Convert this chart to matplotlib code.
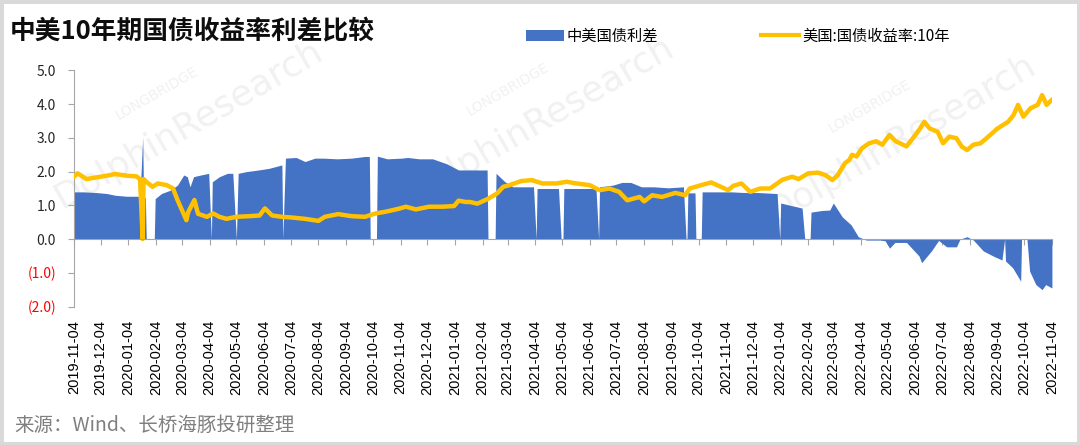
import matplotlib
matplotlib.use("Agg")
import matplotlib.pyplot as plt
import pandas as pd
from matplotlib.patches import Patch, Rectangle
from matplotlib.lines import Line2D

plt.rcParams['font.family'] = ['Noto Sans CJK SC', 'DejaVu Sans']

# 中美国债利差 (zeros are the holiday gaps)
spread_dates = [
    "2019-11-04", "2019-11-15", "2019-11-29", "2019-12-11", "2019-12-20", "2020-01-02",
    "2020-01-14", "2020-01-17", "2020-01-20", "2020-01-21", "2020-01-23", "2020-01-24",
    "2020-02-02", "2020-02-03", "2020-02-10", "2020-02-20", "2020-02-28", "2020-03-06",
    "2020-03-10", "2020-03-13", "2020-03-17", "2020-03-25", "2020-04-03", "2020-04-06",
    "2020-04-07", "2020-04-15", "2020-04-24", "2020-04-30", "2020-05-04", "2020-05-06",
    "2020-05-15", "2020-05-29", "2020-06-10", "2020-06-24", "2020-06-25", "2020-06-28",
    "2020-07-10", "2020-07-20", "2020-07-31", "2020-08-10", "2020-08-25", "2020-09-10",
    "2020-09-25", "2020-09-30", "2020-10-01", "2020-10-08", "2020-10-09", "2020-10-20",
    "2020-11-05", "2020-11-12", "2020-11-25", "2020-12-10", "2020-12-26", "2021-01-08",
    "2021-01-20", "2021-02-09", "2021-02-10", "2021-02-18", "2021-02-19", "2021-03-01",
    "2021-03-10", "2021-03-25", "2021-04-02", "2021-04-05", "2021-04-06", "2021-04-20",
    "2021-04-30", "2021-05-03", "2021-05-05", "2021-05-06", "2021-05-20", "2021-06-11",
    "2021-06-14", "2021-06-15", "2021-06-30", "2021-07-10", "2021-07-20", "2021-08-01",
    "2021-08-15", "2021-08-31", "2021-09-17", "2021-09-20", "2021-09-21", "2021-09-22",
    "2021-09-30", "2021-10-01", "2021-10-07", "2021-10-08", "2021-10-20", "2021-11-10",
    "2021-11-25", "2021-12-10", "2021-12-31", "2022-01-03", "2022-01-04", "2022-01-15",
    "2022-01-28", "2022-01-31", "2022-02-06", "2022-02-07", "2022-02-20", "2022-02-28",
    "2022-03-04", "2022-03-14", "2022-03-24", "2022-04-01", "2022-04-10", "2022-04-25",
    "2022-05-01", "2022-05-06", "2022-05-12", "2022-05-25", "2022-06-08", "2022-06-11",
    "2022-06-22", "2022-06-30", "2022-07-09", "2022-07-20", "2022-07-24", "2022-08-01",
    "2022-08-08", "2022-08-19", "2022-08-30", "2022-09-09", "2022-09-12", "2022-09-13",
    "2022-09-21", "2022-09-28", "2022-09-30", "2022-10-01", "2022-10-07", "2022-10-10",
    "2022-10-17", "2022-10-24", "2022-10-28", "2022-11-04",
]
spread_vals = [
    1.40, 1.40, 1.38, 1.35, 1.30, 1.27,
    1.27, 1.25, 3.03, 1.25, 1.22, 0,
    0, 1.20, 1.35, 1.45, 1.60, 1.90,
    1.85, 1.55, 1.85, 1.90, 1.95, 0,
    1.70, 1.85, 1.95, 1.95, 0, 1.95,
    2.00, 2.05, 2.10, 2.20, 0, 2.40,
    2.42, 2.30, 2.40, 2.40, 2.38, 2.40,
    2.45, 2.45, 0, 0, 2.46, 2.38,
    2.40, 2.42, 2.38, 2.38, 2.23, 2.05,
    2.05, 2.05, 0, 0, 1.95, 1.70,
    1.55, 1.55, 1.55, 0, 1.50, 1.50,
    1.50, 0, 0, 1.50, 1.50, 1.50,
    0, 1.55, 1.60, 1.68, 1.68, 1.55,
    1.55, 1.52, 1.55, 0, 0, 1.37,
    1.37, 0, 0, 1.40, 1.40, 1.40,
    1.38, 1.38, 1.35, 0, 1.07, 1.00,
    0.92, 0, 0, 0.80, 0.85, 0.86,
    1.07, 0.66, 0.42, 0.07, -0.03, -0.03,
    -0.05, -0.27, -0.10, -0.10, -0.50, -0.70,
    -0.35, -0.04, -0.23, -0.23, 0.0, 0.07,
    -0.03, -0.35, -0.50, -0.62, 0, -0.65,
    -0.85, -1.16, -1.25, 0, 0, -0.95,
    -1.35, -1.50, -1.35, -1.45,
]

# 美国:国债收益率:10年
us_dates = [
    "2019-11-04", "2019-11-08", "2019-11-18", "2019-11-29", "2019-12-11", "2019-12-20",
    "2020-01-02", "2020-01-13", "2020-01-17", "2020-01-20", "2020-01-21", "2020-01-24",
    "2020-01-31", "2020-02-06", "2020-02-16", "2020-02-23", "2020-02-28", "2020-03-09",
    "2020-03-11", "2020-03-18", "2020-03-22", "2020-04-01", "2020-04-08", "2020-04-15",
    "2020-04-23", "2020-05-04", "2020-05-19", "2020-05-30", "2020-06-05", "2020-06-13",
    "2020-06-24", "2020-07-05", "2020-07-20", "2020-08-04", "2020-08-11", "2020-08-26",
    "2020-09-10", "2020-09-25", "2020-10-07", "2020-10-18", "2020-11-02", "2020-11-10",
    "2020-11-21", "2020-12-06", "2020-12-21", "2021-01-03", "2021-01-08", "2021-01-16",
    "2021-01-21", "2021-01-29", "2021-02-09", "2021-02-20", "2021-02-27", "2021-03-06",
    "2021-03-19", "2021-03-31", "2021-04-12", "2021-04-28", "2021-05-09", "2021-05-20",
    "2021-06-04", "2021-06-15", "2021-06-26", "2021-07-07", "2021-07-16", "2021-07-30",
    "2021-08-04", "2021-08-13", "2021-08-24", "2021-09-08", "2021-09-19", "2021-09-24",
    "2021-10-07", "2021-10-18", "2021-10-29", "2021-11-06", "2021-11-12", "2021-11-21",
    "2021-12-01", "2021-12-12", "2021-12-23", "2022-01-06", "2022-01-17", "2022-01-24",
    "2022-02-04", "2022-02-15", "2022-02-23", "2022-03-03", "2022-03-09", "2022-03-17",
    "2022-03-22", "2022-03-25", "2022-03-30", "2022-04-05", "2022-04-13", "2022-04-21",
    "2022-04-28", "2022-05-06", "2022-05-13", "2022-05-25", "2022-05-31", "2022-06-08",
    "2022-06-14", "2022-06-20", "2022-06-29", "2022-07-05", "2022-07-12", "2022-07-20",
    "2022-07-26", "2022-08-01", "2022-08-08", "2022-08-16", "2022-08-27", "2022-09-04",
    "2022-09-16", "2022-09-22", "2022-09-27", "2022-10-03", "2022-10-11", "2022-10-19",
    "2022-10-24", "2022-10-29", "2022-11-04",
]
us_vals = [
    1.85, 1.95, 1.78, 1.83, 1.88, 1.93,
    1.88, 1.86, 1.78, 0.0, 1.78, 1.70,
    1.55, 1.65, 1.60, 1.50, 1.16, 0.56,
    0.80, 1.16, 0.75, 0.66, 0.76, 0.66,
    0.60, 0.66, 0.68, 0.70, 0.91, 0.70,
    0.66, 0.64, 0.60, 0.54, 0.66, 0.74,
    0.68, 0.66, 0.76, 0.81, 0.90, 0.96,
    0.88, 0.96, 0.96, 0.98, 1.14, 1.10,
    1.10, 1.05, 1.18, 1.35, 1.55, 1.60,
    1.72, 1.75, 1.65, 1.65, 1.70, 1.65,
    1.60, 1.45, 1.50, 1.40, 1.15, 1.25,
    1.12, 1.30, 1.25, 1.37, 1.30, 1.50,
    1.60, 1.68, 1.55, 1.45, 1.58, 1.65,
    1.40, 1.50, 1.50, 1.76, 1.85, 1.78,
    1.95, 1.97, 1.90, 1.75, 1.90, 2.25,
    2.35, 2.50, 2.45, 2.69, 2.84, 2.90,
    2.80, 3.09, 2.90, 2.75, 2.95, 3.23,
    3.48, 3.28, 3.18, 2.84, 3.04, 2.99,
    2.74, 2.64, 2.80, 2.84, 3.09, 3.28,
    3.48, 3.68, 3.98, 3.63, 3.88, 3.98,
    4.27, 3.98, 4.13,
]

y_ticks = [5, 4, 3, 2, 1, 0, -1, -2]
y_labels = ["5.0", "4.0", "3.0", "2.0", "1.0", "0.0", "(1.0)", "(2.0)"]

sd = pd.to_datetime(spread_dates)
ud = pd.to_datetime(us_dates)
tick_dates = pd.date_range("2019-11-04", "2022-11-04", freq=pd.DateOffset(months=1))

fig = plt.figure(figsize=(10.8, 4.45), dpi=100)
ax = fig.add_axes([0.0685, 0.3112, 0.9055, 0.5304])
ax.patch.set_visible(False)

ax.fill_between(sd, 0, spread_vals, color="#4472C4", lw=0, zorder=2)
ax.plot(ud, us_vals, color="#FFC000", lw=3.2, zorder=3, solid_joinstyle="round")

ax.set_xlim(tick_dates[0], tick_dates[-1])
ax.set_ylim(-2, 5)

for s in ["top", "right"]:
    ax.spines[s].set_visible(False)
ax.spines["bottom"].set_position(("data", 0))
ax.spines["bottom"].set_color("#a6a6a6")
ax.spines["left"].set_color("#a6a6a6")
ax.spines["bottom"].set_zorder(4)

ax.set_xticks(tick_dates)
ax.set_xticklabels([d.strftime("%Y-%m-%d") for d in tick_dates], rotation=90,
                   fontsize=10.5, family="Liberation Sans", va="top")
ax.tick_params(axis="x", length=4, color="#a6a6a6", pad=54)

ax.set_yticks(y_ticks)
ax.set_yticklabels(y_labels, fontsize=10)
ax.tick_params(axis="y", length=4, color="#a6a6a6", pad=9)
for lab, v in zip(ax.get_yticklabels(), y_ticks):
    lab.set_color("#FF0000" if v < 0 else "#262626")

# faint watermark
for (x, y) in [(0.175, 0.72), (0.50, 0.73), (0.835, 0.69)]:
    fig.text(x, y, "DolphinResearch", fontsize=26, color="#f1f1f1", rotation=30,
             ha="center", va="center", family="DejaVu Sans", zorder=-1)
    fig.text(x - 0.03, y + 0.07, "LONGBRIDGE", fontsize=10, color="#f1f1f1",
             rotation=30, ha="center", va="center", family="DejaVu Sans", zorder=-1)

fig.text(0.009, 0.928, "中美10年期国债收益率利差比较", fontsize=18.5, fontweight="bold",
         ha="left", va="center", color="#0d0d0d")
fig.text(0.013, 0.045, "来源：Wind、长桥海豚投研整理", fontsize=14, color="#7f7f7f",
         ha="left", va="center")

handles = [Patch(color="#4472C4", lw=0), Line2D([], [], color="#FFC000", lw=3)]
fig.legend(handles, ["中美国债利差", "美国:国债收益率:10年"], ncol=2, frameon=False,
           fontsize=11, handlelength=2.5, handletextpad=0.2, columnspacing=6.7,
           loc="center", bbox_to_anchor=(0.683, 0.919))

fig.patches.append(Rectangle((0, 0), 1, 1, transform=fig.transFigure, fill=False,
                             edgecolor="#d9d9d9", lw=5))

fig.savefig("out.png", dpi=100)
